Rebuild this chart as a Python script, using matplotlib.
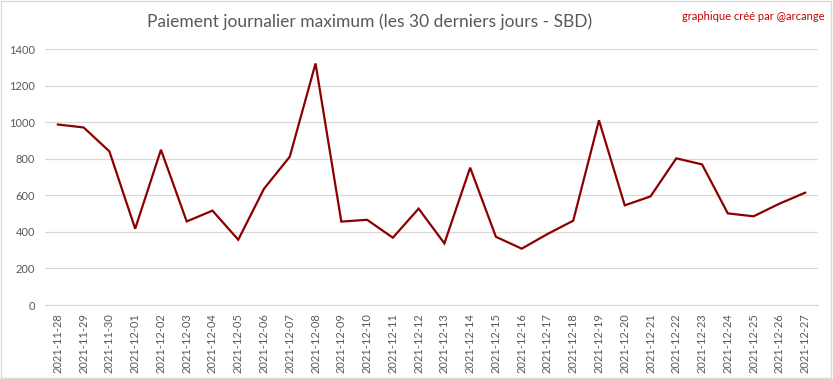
import matplotlib
matplotlib.use("Agg")
import matplotlib.pyplot as plt
from matplotlib.patches import Rectangle

# daily max payout, SBD
dates = ["2021-11-28", "2021-11-29", "2021-11-30", "2021-12-01", "2021-12-02",
         "2021-12-03", "2021-12-04", "2021-12-05", "2021-12-06", "2021-12-07",
         "2021-12-08", "2021-12-09", "2021-12-10", "2021-12-11", "2021-12-12",
         "2021-12-13", "2021-12-14", "2021-12-15", "2021-12-16", "2021-12-17",
         "2021-12-18", "2021-12-19", "2021-12-20", "2021-12-21", "2021-12-22",
         "2021-12-23", "2021-12-24", "2021-12-25", "2021-12-26", "2021-12-27"]
payout = [987, 971, 840, 417, 849, 457, 516, 357, 636, 811,
          1321, 456, 466, 368, 527, 337, 751, 373, 308, 388,
          461, 1010, 545, 594, 802, 769, 501, 485, 554, 614]
yticks = [0, 200, 400, 600, 800, 1000, 1200, 1400]

plt.rcParams['font.family'] = ['Lato', 'DejaVu Sans']

fig = plt.figure(figsize=(8.33, 3.79), dpi=100)
ax = fig.add_axes([45 / 833, 1 - 305 / 379, 773 / 833, 256 / 379])

x = list(range(len(dates)))
ax.plot(x, payout, color="#8B0000", lw=1.6, solid_joinstyle="miter")

ax.set_xlim(-0.5, len(dates) - 0.5)
ax.set_ylim(0, 1400)
ax.set_yticks(yticks)
ax.set_xticks(x)
ax.set_xticklabels(dates, rotation=90)
ax.tick_params(axis="both", length=0, colors="#595959", labelsize=8)
ax.tick_params(axis="y", pad=7)
ax.tick_params(axis="x", pad=6)
ax.grid(axis="y", color="#D9D9D9", lw=0.9)
ax.set_axisbelow(True)
for s in ["top", "right", "left"]:
    ax.spines[s].set_visible(False)
ax.spines["bottom"].set_color("#D9D9D9")

fig.text(370 / 833, 1 - 22 / 379, "Paiement journalier maximum (les 30 derniers jours - SBD)",
         ha="center", va="center", fontsize=12.5, color="#595959")
fig.text(825 / 833, 1 - 16 / 379, "graphique créé par @arcange",
         ha="right", va="center", fontsize=8, color="#C00000")

# thin frame around the whole chart
fig.patches.append(Rectangle((0.001, 0.002), 0.997, 0.995, transform=fig.transFigure,
                             fill=False, edgecolor="#D9D9D9", lw=1))

fig.savefig("out.png", dpi=100)
